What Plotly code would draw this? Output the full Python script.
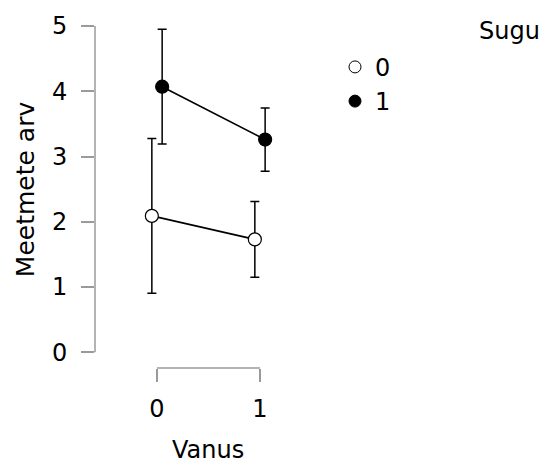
import plotly.graph_objects as go

# Data
vanus = [0, 1]
sugu_levels = ["0", "1"]
means_0 = [2.09, 1.73]
err_0 = [1.185, 0.58]
means_1 = [4.07, 3.26]
err_1 = [0.88, 0.485]
y_ticks = [0, 1, 2, 3, 4, 5]
x_ticks = [0, 1]

FONT = "DejaVu Sans"
FS = 24
AX = "#9a9a9a"
DODGE = 0.05

fig = go.Figure()

series = [
    (sugu_levels[0], means_0, err_0, "white", -DODGE),
    (sugu_levels[1], means_1, err_1, "black", DODGE),
]
for name, m, e, fill, off in series:
    xs = [v + off for v in vanus]
    fig.add_trace(go.Scatter(
        x=xs, y=m, mode="lines+markers", showlegend=False,
        line=dict(color="black", width=1.6),
        marker=dict(size=13, color=fill, line=dict(color="black", width=1.2)),
        error_y=dict(type="data", array=e, visible=True, color="black",
                     thickness=1.5, width=4.5),
    ))
for i, (name, m, e, fill, off) in enumerate(series):
    fig.add_trace(go.Scatter(
        x=[None], y=[None], mode="markers", name=name,
        marker=dict(size=12, color=fill, line=dict(color="black", width=1)),
    ))

# axis lines spanning only the tick range
fig.add_shape(type="line", xref="paper", yref="y", x0=0, x1=0,
              y0=min(y_ticks), y1=max(y_ticks), line=dict(color=AX, width=1.5))
fig.add_shape(type="line", xref="x", yref="paper", x0=min(x_ticks), x1=max(x_ticks),
              y0=0, y1=0, line=dict(color=AX, width=1.5))

fig.add_annotation(text="Meetmete arv", xref="paper", yref="y", x=-0.35, y=2.5,
                   textangle=-90, showarrow=False, font=dict(family=FONT, size=25, color="black"),
                   xanchor="center", yanchor="middle")
fig.add_annotation(text="Vanus", xref="x", yref="paper", x=0.5, y=-0.24,
                   showarrow=False, font=dict(family=FONT, size=FS, color="black"),
                   xanchor="center", yanchor="middle")
fig.add_annotation(text="Sugu", xref="paper", yref="paper", x=2.235, y=0.985,
                   showarrow=False, font=dict(family=FONT, size=FS, color="black"),
                   xanchor="right", yanchor="middle")

fig.update_layout(
    width=544, height=463,
    margin=dict(l=95, r=249, t=20, b=95),
    plot_bgcolor="white", paper_bgcolor="white",
    font=dict(family=FONT, size=FS, color="black"),
    showlegend=True,
    legend=dict(x=1.2, y=0.945, xanchor="left", yanchor="top",
                traceorder="normal",
                font=dict(family=FONT, size=FS, color="black"),
                bgcolor="rgba(0,0,0,0)"),
    xaxis=dict(range=[-0.602, 1.34], tickvals=x_ticks, ticktext=[str(v) for v in x_ticks],
               showgrid=False, zeroline=False, showline=False,
               ticks="outside", ticklen=13, tickwidth=1.5, tickcolor=AX,
               ticklabelstandoff=6),
    yaxis=dict(range=[-0.241, 5], tickvals=y_ticks, ticktext=[str(v) for v in y_ticks],
               showgrid=False, zeroline=False, showline=False,
               ticks="outside", ticklen=13, tickwidth=1.5, tickcolor=AX,
               ticklabelstandoff=9),
)

fig.write_html("out.html")
